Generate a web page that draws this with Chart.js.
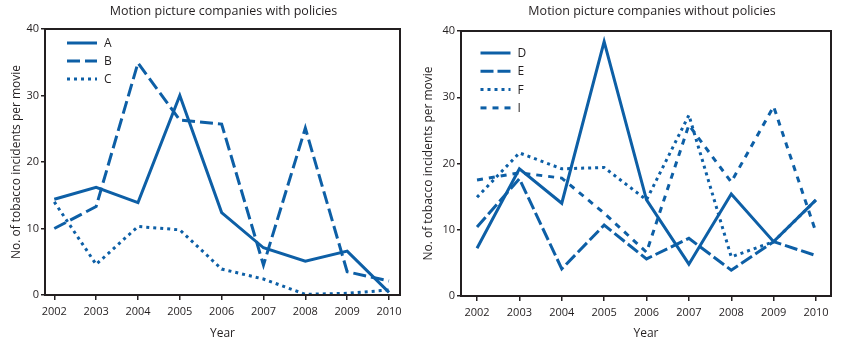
<!DOCTYPE html>
<html>
<head>
<meta charset="utf-8">
<script src="https://cdn.jsdelivr.net/npm/chart.js@4/dist/chart.umd.min.js"></script>
<style>
  html, body { margin: 0; padding: 0; background: #fff; }
  .wrap { display: flex; width: 841px; height: 345px; }
  .panel { position: relative; height: 345px; }
</style>
</head>
<body>
<div class="wrap">
  <div class="panel" style="width:420px"><canvas id="withChart"></canvas></div>
  <div class="panel" style="width:421px"><canvas id="withoutChart"></canvas></div>
</div>
<script>
const years = [2002, 2003, 2004, 2005, 2006, 2007, 2008, 2009, 2010];
const yTicks = [0, 10, 20, 30, 40];

// companies with policies
const seriesA = [14.4, 16.2, 13.9, 30.0, 12.4, 7.1, 5.1, 6.6, 0.4];
const seriesB = [10.0, 13.3, 34.9, 26.3, 25.7, 4.5, 25.1, 3.5, 2.1];
const seriesC = [14.0, 4.6, 10.3, 9.8, 3.9, 2.4, 0.1, 0.25, 0.75];

// companies without policies
const seriesD = [7.2, 19.2, 14.0, 38.4, 14.5, 4.8, 15.4, 8.2, 14.5];
const seriesE = [10.4, 17.7, 4.1, 10.7, 5.6, 8.7, 3.9, 8.2, 6.1];
const seriesF = [14.9, 21.6, 19.2, 19.4, 14.5, 27.3, 5.9, 8.2, 14.5];
const seriesI = [17.5, 18.6, 17.8, 12.5, 6.6, 25.8, 17.2, 28.6, 9.6];

const blue = '#0d5fa6';
const ink = '#231f20';
const fontFamily = '"Open Sans", "Noto Sans", sans-serif';

function line(label, values, dash) {
    return {
        label: label,
        data: values.map((v, i) => ({ x: years[i], y: v })),
        borderColor: blue,
        backgroundColor: blue,
        borderWidth: 3,
        borderDash: dash,
        borderCapStyle: 'butt',
        borderJoinStyle: 'miter',
        pointRadius: 0,
        tension: 0,
        fill: false
    };
}

// frame around the plot area
const frame = {
    id: 'frame',
    afterDatasetsDraw(chart) {
        const a = chart.chartArea;
        const ctx = chart.ctx;
        ctx.save();
        ctx.strokeStyle = ink;
        ctx.lineWidth = 2;
        ctx.setLineDash([]);
        ctx.strokeRect(a.left, a.top, a.right - a.left, a.bottom - a.top);
        ctx.restore();
    }
};

// panel heading, centred over the plot area rather than the canvas
const heading = {
    id: 'heading',
    afterDraw(chart, args, opts) {
        const a = chart.chartArea;
        const ctx = chart.ctx;
        ctx.save();
        ctx.font = '12.5px ' + fontFamily;
        ctx.fillStyle = ink;
        ctx.textAlign = 'center';
        ctx.textBaseline = 'middle';
        ctx.fillText(opts.text, (a.left + a.right) / 2 + opts.shift, opts.y);
        ctx.restore();
    }
};

// key drawn inside the top-left of the plot area
const insideKey = {
    id: 'insideKey',
    afterDatasetsDraw(chart, args, opts) {
        const a = chart.chartArea;
        const ctx = chart.ctx;
        ctx.save();
        ctx.font = '12px ' + fontFamily;
        ctx.textBaseline = 'middle';
        chart.data.datasets.forEach((ds, i) => {
            const y = a.top + opts.y + i * opts.gap;
            const x0 = a.left + opts.x;
            ctx.strokeStyle = ds.borderColor;
            ctx.lineWidth = ds.borderWidth;
            ctx.lineCap = 'butt';
            ctx.setLineDash(ds.borderDash || []);
            ctx.beginPath();
            ctx.moveTo(x0, y);
            ctx.lineTo(x0 + 30, y);
            ctx.stroke();
            ctx.fillStyle = ink;
            ctx.fillText(ds.label, x0 + 37, y + 0.5);
        });
        ctx.restore();
    }
};

function makeChart(id, title, datasets, cfg) {
    new Chart(document.getElementById(id), {
        type: 'line',
        data: { datasets: datasets },
        plugins: [frame, heading, insideKey],
        options: {
            responsive: true,
            maintainAspectRatio: false,
            animation: false,
            layout: { padding: { left: 0, right: cfg.padRight, top: cfg.padTop, bottom: 0 } },
            plugins: {
                legend: { display: false },
                tooltip: { enabled: false },
                heading: { text: title, y: 11, shift: cfg.titleShift },
                insideKey: cfg.key
            },
            scales: {
                x: {
                    type: 'linear',
                    min: cfg.xMin,
                    max: cfg.xMax,
                    afterBuildTicks: s => { s.ticks = years.map(v => ({ value: v })); },
                    afterFit: s => { s.height = cfg.xHeight; },
                    border: { display: false },
                    grid: { drawOnChartArea: false, drawTicks: true, tickLength: 5, color: ink, lineWidth: 1.5 },
                    ticks: {
                        color: ink,
                        padding: 5,
                        maxRotation: 0,
                        autoSkip: false,
                        font: { family: fontFamily, size: 11 },
                        callback: v => String(v)
                    },
                    title: {
                        display: true,
                        text: 'Year',
                        color: ink,
                        font: { family: fontFamily, size: 12 },
                        padding: { top: 0, bottom: 4 }
                    }
                },
                y: {
                    min: 0,
                    max: 40,
                    afterBuildTicks: s => { s.ticks = yTicks.map(v => ({ value: v })); },
                    afterFit: s => { s.width = cfg.yWidth; },
                    border: { display: false },
                    grid: { drawOnChartArea: false, drawTicks: true, tickLength: 4, color: ink, lineWidth: 1.5 },
                    ticks: {
                        color: ink,
                        padding: 2,
                        font: { family: fontFamily, size: 11 }
                    },
                    title: {
                        display: true,
                        text: 'No. of tobacco incidents per movie',
                        color: ink,
                        font: { family: fontFamily, size: 12 },
                        padding: { top: cfg.yTitlePad, bottom: 0 }
                    }
                }
            }
        }
    });
}

makeChart('withChart', 'Motion picture companies with policies', [
    line('A', seriesA, []),
    line('B', seriesB, [13, 5]),
    line('C', seriesC, [3, 4])
], {
    padRight: 20, padTop: 29, titleShift: 1, xMin: 2001.778, xMax: 2010.263,
    xHeight: 50, yWidth: 45, yTitlePad: 9,
    key: { x: 22, y: 14, gap: 18 }
});

makeChart('withoutChart', 'Motion picture companies without policies', [
    line('D', seriesD, []),
    line('E', seriesE, [13, 4]),
    line('F', seriesF, [3, 4]),
    line('I', seriesI, [6, 6])
], {
    padRight: 10, padTop: 31, titleShift: 6, xMin: 2001.622, xMax: 2010.354,
    xHeight: 49, yWidth: 41, yTitlePad: 1,
    key: { x: 19.5, y: 22, gap: 18.3 }
});
</script>
</body>
</html>
